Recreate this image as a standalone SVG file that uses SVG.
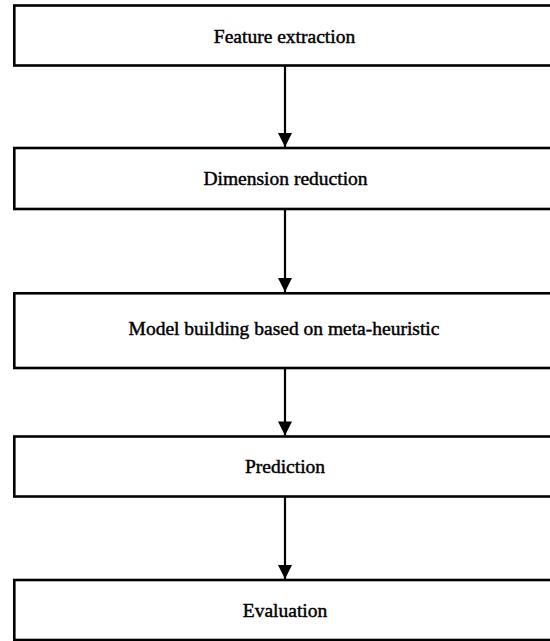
<svg xmlns="http://www.w3.org/2000/svg" width="550" height="641" viewBox="0 0 550 641">
  <style>
    .box { fill: #ffffff; stroke: #000000; stroke-width: 2.6; }
    .lbl { font-family: "Liberation Serif", "Times New Roman", serif; font-size: 19.5px; fill: #000000; text-anchor: middle; stroke: #000000; stroke-width: 0.45; }
    .conn { stroke: #000000; stroke-width: 2.2; fill: none; }
  </style>
  <defs>
    <marker id="arrow" markerUnits="userSpaceOnUse" markerWidth="16" markerHeight="14" refX="15" refY="7.5" orient="auto" viewBox="0 0 16 15">
      <polygon points="0,0 15,7.5 0,15" fill="#000000"/>
    </marker>
  </defs>
  <rect x="0" y="0" width="550" height="641" fill="#ffffff"/>
  <g id="connectors">
    <line class="conn" x1="285" y1="66" x2="285" y2="147" marker-end="url(#arrow)"/>
    <line class="conn" x1="285" y1="209" x2="285" y2="292" marker-end="url(#arrow)"/>
    <line class="conn" x1="285" y1="368" x2="285" y2="435.5" marker-end="url(#arrow)"/>
    <line class="conn" x1="285" y1="497" x2="285" y2="579" marker-end="url(#arrow)"/>
  </g>
  <g id="node-feature-extraction">
    <rect class="box" x="14.3" y="5.5" width="545" height="60"/>
    <text class="lbl" x="284.5" y="42.5">Feature extraction</text>
  </g>
  <g id="node-dimension-reduction">
    <rect class="box" x="14.3" y="148" width="545" height="61"/>
    <text class="lbl" x="285.5" y="185">Dimension reduction</text>
  </g>
  <g id="node-model-building">
    <rect class="box" x="14.3" y="293.3" width="545" height="74.7"/>
    <text class="lbl" x="284" y="335">Model building based on meta-heuristic</text>
  </g>
  <g id="node-prediction">
    <rect class="box" x="14.3" y="436.5" width="545" height="60"/>
    <text class="lbl" x="285" y="473">Prediction</text>
  </g>
  <g id="node-evaluation">
    <rect class="box" x="14.3" y="580" width="545" height="60"/>
    <text class="lbl" x="285" y="617">Evaluation</text>
  </g>
</svg>
